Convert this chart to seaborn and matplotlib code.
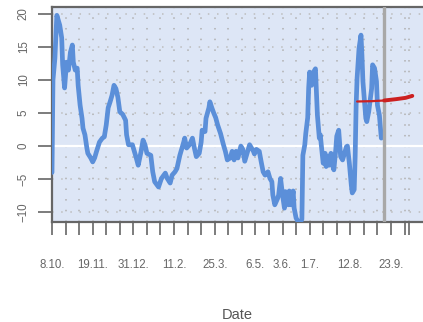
import matplotlib
matplotlib.use("Agg")
import matplotlib.pyplot as plt
import seaborn as sns
import numpy as np
import pandas as pd

# days since 8 Oct 2020 and the plotted values
start = pd.Timestamp("2020-10-08")
days = [0, 1, 3, 5, 8, 10, 11, 13, 15, 17, 19, 21, 22, 24, 26, 27, 29, 31, 32, 34,
        36, 37, 40, 42, 44, 46, 49, 52, 54, 56, 58, 60, 62, 64, 66, 68, 70, 73, 76, 77,
        79, 83, 85, 87, 89, 92, 94, 96, 98, 102, 104, 106, 110, 113, 117, 119, 122, 124, 127, 129,
        132, 136, 137, 139, 142, 145, 147, 149, 152, 154, 155, 158, 159, 162, 163, 165, 167, 169, 171, 174,
        177, 179, 181, 184, 186, 188, 190, 192, 195, 197, 199, 202, 204, 208, 209, 211, 214, 216, 218, 220,
        223, 225, 227, 228, 230, 233, 234, 236, 238, 240, 241, 244, 245, 247, 249, 250, 252, 254, 256, 258,
        259, 261, 262, 264, 265, 266, 268, 270, 272, 273, 274, 276, 277, 278, 280, 282, 283, 285, 286, 288,
        290, 291, 293, 294, 296, 297, 298, 300, 304, 305, 307, 309, 310, 312, 313, 314, 315, 317, 319, 320,
        321, 323, 324, 325, 327, 330, 331, 333, 335, 336, 338, 340]
values = [-4, 10, 13.3, 19.8, 18.3, 16.4, 12.3, 8.8, 12.7, 11.5, 14.2, 15.3, 12.7, 11.5, 11.8, 9.2, 6.2, 4.2, 2.7, 1.7,
          -0.3, -1.1, -1.8, -2.4, -1.8, -0.8, 0.6, 1.2, 1.4, 3.2, 5.8, 6.7, 7.7, 9.2, 8.7, 7.4, 5.2, 4.8, 3.9, 1.7,
          0.2, 0.2, -0.8, -1.8, -2.9, -0.8, 0.9, 0.2, -1.1, -1.4, -3.9, -5.4, -6.2, -4.9, -4.1, -4.9, -5.6, -4.4, -3.9, -3.4,
          -1.4, 0.6, 1.2, -0.3, 0.2, 1.2, -0.3, -1.6, -1.1, 0.6, 2.4, 2.2, 4.2, 5.8, 6.7, 5.8, 5.0, 4.3, 3.2, 1.9,
          0.2, -0.8, -2.1, -1.8, -0.8, -2.1, -0.8, -1.8, 0, -0.5, -2.3, -0.8, 0.2, -0.8, -1.2, -0.5, -0.8, -2.4, -3.9, -4.4,
          -3.9, -4.9, -5.4, -7.4, -8.9, -7.9, -7.4, -4.9, -7.4, -9.4, -6.9, -8.9, -6.8, -8.9, -6.8, -9.4, -10.9, -11.4, -11.6, -11.1,
          -1.4, 0.2, 1.9, 4.3, 8.8, 11.2, 9.2, 11.2, 11.7, 8.2, 4.7, 1.2, 1.7, 0.2, -2.6, -1.1, -3.1, -1.6, -2.9, -1.1,
          -3.1, -3.6, -0.5, 1.5, 2.4, 0.5, -1.6, -2.1, -0.1, 0, -2.6, -5.9, -7.1, -6.6, -1.6, 6.2, 10.3, 14.8, 16.8, 13.8,
          9.8, 6.2, 4.2, 3.7, 5.2, 8.7, 12.3, 11.8, 9.8, 6.2, 4.7, 1.2]

# trend estimate (red), split at the "today" marker
trend_days = [315, 330, 343, 355, 365, 372]
trend_vals = [6.75, 6.8, 6.9, 7.1, 7.3, 7.6]
today = 343

tick_days = list(range(0, 365, 14)) + [369]
label_days = [0, 42, 84, 126, 168, 210, 238, 266, 308, 350]
yticks = [-10, -5, 0, 5, 10, 15, 20]

df = pd.DataFrame({"day": days, "value": values})
trend = pd.DataFrame({"day": trend_days, "value": trend_vals})

sns.set_theme(style="white")
plt.rcParams["font.family"] = ["Liberation Sans", "DejaVu Sans"]

fig = plt.figure(figsize=(4.23, 3.22), dpi=100)
ax = fig.add_axes([52 / 423, 1 - 222 / 322, 1 - 52 / 423, 215 / 322])
ax.set_facecolor("#dde6f6")

# dotted grid
for d in tick_days:
    ax.axvline(d, color="#b0b0b0", lw=1.1, ls=(0, (1, 6)), zorder=1)
for y in yticks:
    if y != 0:
        ax.axhline(y, color="#bdbdbd", lw=1.1, ls=(0, (1, 5)), zorder=1)
ax.axhline(0, color="white", lw=1.6, zorder=2)

sns.lineplot(data=df, x="day", y="value", color="#5b8fd9", lw=3.4, ax=ax, zorder=3)

ax.axvline(today, color="#a8a8a8", lw=2.4, zorder=4)
before = trend[trend["day"] <= today]
after = trend[trend["day"] >= today]
sns.lineplot(data=before, x="day", y="value", color="#cc2020", lw=1.6, ax=ax, zorder=5)
sns.lineplot(data=after, x="day", y="value", color="#cc2020", lw=2.8, ax=ax, zorder=5)

ax.set_xlim(0, (423 - 52) * 14 / 13.56)
ax.set_ylim(-11.5, 21.06)

labels = {d: (start + pd.Timedelta(days=d)).strftime("%-d.%-m.") for d in label_days}
ax.set_xticks(tick_days)
ax.set_xticklabels([labels.get(d, "") for d in tick_days])
ax.set_yticks(yticks)
ax.set_yticklabels([str(y).replace("-", "\u2212") for y in yticks], rotation=90, va="center")

ax.tick_params(axis="x", length=9.5, width=1.2, color="#666666", pad=17,
               labelsize=8.3, labelcolor="#666666", bottom=True)
ax.tick_params(axis="y", length=10, width=1.2, color="#666666", pad=6,
               labelsize=8.3, labelcolor="#666666", left=True)

for side in ["left", "top", "bottom"]:
    ax.spines[side].set_color("#666666")
    ax.spines[side].set_linewidth(1.6)
ax.spines["right"].set_visible(False)

ax.set_ylabel("")
ax.set_xlabel("Date", fontsize=10.5, color="#555555")
ax.xaxis.set_label_coords(0.5, -0.40)

fig.savefig("out.png", dpi=100)
